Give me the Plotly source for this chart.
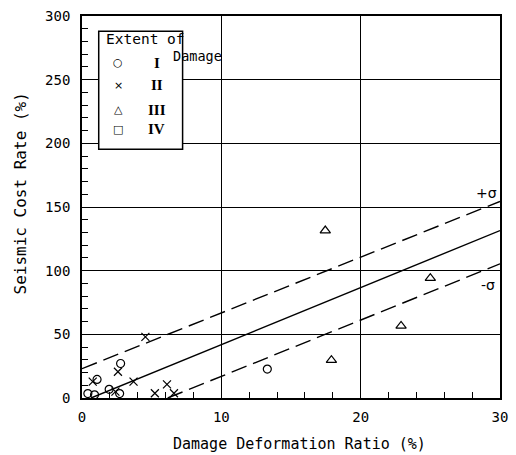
import plotly.graph_objects as go

# Damage deformation ratio (%) vs seismic cost rate (%), by extent of damage
damage_classes = ["I", "II", "III", "IV"]

ratio_I = [0.42, 0.9, 1.08, 1.95, 2.7, 2.77, 13.3]
cost_I = [3.5, 2.5, 14.6, 6.8, 3.5, 27.1, 22.7]

ratio_II = [0.77, 2.58, 2.4, 3.7, 4.55, 5.23, 6.1, 6.6]
cost_II = [12.8, 20.6, 5.0, 12.8, 48.0, 3.7, 10.7, 3.7]

ratio_III = [17.46, 25.0, 22.9, 17.9]
cost_III = [131.5, 94.1, 56.6, 29.7]

ratio_IV = []
cost_IV = []

# regression line and +/- sigma band (end points)
fit_x = [0.65, 30]
fit_y = [0.0, 131.5]
upper_x = [0, 30]
upper_y = [23.0, 154.4]
lower_x = [6.15, 30]
lower_y = [0.0, 105.4]

x_ticks = [0, 10, 20, 30]
y_ticks = [0, 50, 100, 150, 200, 250, 300]

MONO = "DejaVu Sans Mono"
BLACK = "#000000"

fig = go.Figure()

mk = dict(color=BLACK, size=8, line=dict(color=BLACK, width=1.2))
series = [
    (ratio_I, cost_I, "circle-open", 8),
    (ratio_II, cost_II, "x-thin-open", 8),
    (ratio_III, cost_III, "triangle-up-open", 9),
    (ratio_IV, cost_IV, "square-open", 8),
]
for xs, ys, sym, sz in series:
    fig.add_trace(go.Scatter(
        x=xs, y=ys, mode="markers", cliponaxis=False, showlegend=False,
        marker=dict(symbol=sym, size=sz, color=BLACK, line=dict(color=BLACK, width=1.2)),
    ))

fig.add_trace(go.Scatter(x=fit_x, y=fit_y, mode="lines", showlegend=False,
                         line=dict(color=BLACK, width=1.4)))
for xs, ys in [(upper_x, upper_y), (lower_x, lower_y)]:
    fig.add_trace(go.Scatter(x=xs, y=ys, mode="lines", showlegend=False,
                             line=dict(color=BLACK, width=1.4, dash="16px,7px")))

# legend box
fig.add_shape(type="rect", xref="x", yref="y", x0=1.2, x1=7.22, y0=195.4, y1=288,
              line=dict(color=BLACK, width=1.5), fillcolor="white", layer="above")

ann = []
ann.append(dict(x=1.55, y=281.7, text="Extent of", xanchor="left", yanchor="middle",
                font=dict(family=MONO, size=14.5, color=BLACK)))
ann.append(dict(x=6.4, y=268.4, text="Damage", xanchor="left", yanchor="middle",
                font=dict(family=MONO, size=13.5, color=BLACK)))
legend_glyphs = ["○", "×", "△", "□"]
legend_rows = [263.1, 245.7, 226.5, 211.0]
for g, lab, ry in zip(legend_glyphs, damage_classes, legend_rows):
    ann.append(dict(x=2.6, y=ry, text=g, xanchor="center", yanchor="middle",
                    font=dict(family="DejaVu Sans", size=11, color=BLACK)))
    ann.append(dict(x=5.35, y=ry, text="<b>" + lab + "</b>", xanchor="center", yanchor="middle",
                    font=dict(family="Liberation Serif", size=15, color=BLACK)))
ann.append(dict(x=29.05, y=161, text="+σ", xanchor="center", yanchor="middle",
                font=dict(family="DejaVu Sans", size=14, color=BLACK)))
ann.append(dict(x=29.15, y=88.4, text="-σ", xanchor="center", yanchor="middle",
                font=dict(family="DejaVu Sans", size=14, color=BLACK)))
for a in ann:
    a.update(xref="x", yref="y", showarrow=False)

# axis titles
ann.append(dict(x=(304 - 82) / 426, y=-46 / 383.5, xref="paper", yref="paper",
                text="Damage Deformation Ratio (%)", showarrow=False,
                xanchor="center", yanchor="middle",
                font=dict(family=MONO, size=15, color=BLACK)))
ann.append(dict(x=(19 - 82) / 426, y=(398 - 192.5) / 383.5, xref="paper", yref="paper",
                text="Seismic Cost Rate (%)", showarrow=False, textangle=-90,
                xanchor="center", yanchor="middle",
                font=dict(family=MONO, size=16, color=BLACK)))
fig.update_layout(annotations=ann)

axis_common = dict(
    showline=True, linecolor=BLACK, linewidth=1.6, mirror=True,
    ticks="inside", ticklen=6, tickwidth=1.2, tickcolor=BLACK,
    showgrid=True, gridcolor=BLACK, gridwidth=1.2, zeroline=False,
    tickfont=dict(family=MONO, size=14, color=BLACK),
)

fig.update_xaxes(
    range=[0, 30], tickvals=x_ticks, ticktext=[str(v) for v in x_ticks],
    ticklabelstandoff=5,
    minor=dict(dtick=2, ticks="inside", ticklen=6, tickwidth=1.2, tickcolor=BLACK, showgrid=False),
    **axis_common,
)
fig.update_yaxes(
    range=[0, 300], tickvals=y_ticks, ticktext=[str(v) for v in y_ticks],
    ticklabelstandoff=7,
    minor=dict(dtick=10, ticks="inside", ticklen=6, tickwidth=1.2, tickcolor=BLACK, showgrid=False),
    **axis_common,
)

fig.update_layout(
    width=516, height=455,
    margin=dict(l=82, r=8, t=14, b=57),
    paper_bgcolor="white", plot_bgcolor="white",
    showlegend=False,
)

fig.write_html("out.html")
